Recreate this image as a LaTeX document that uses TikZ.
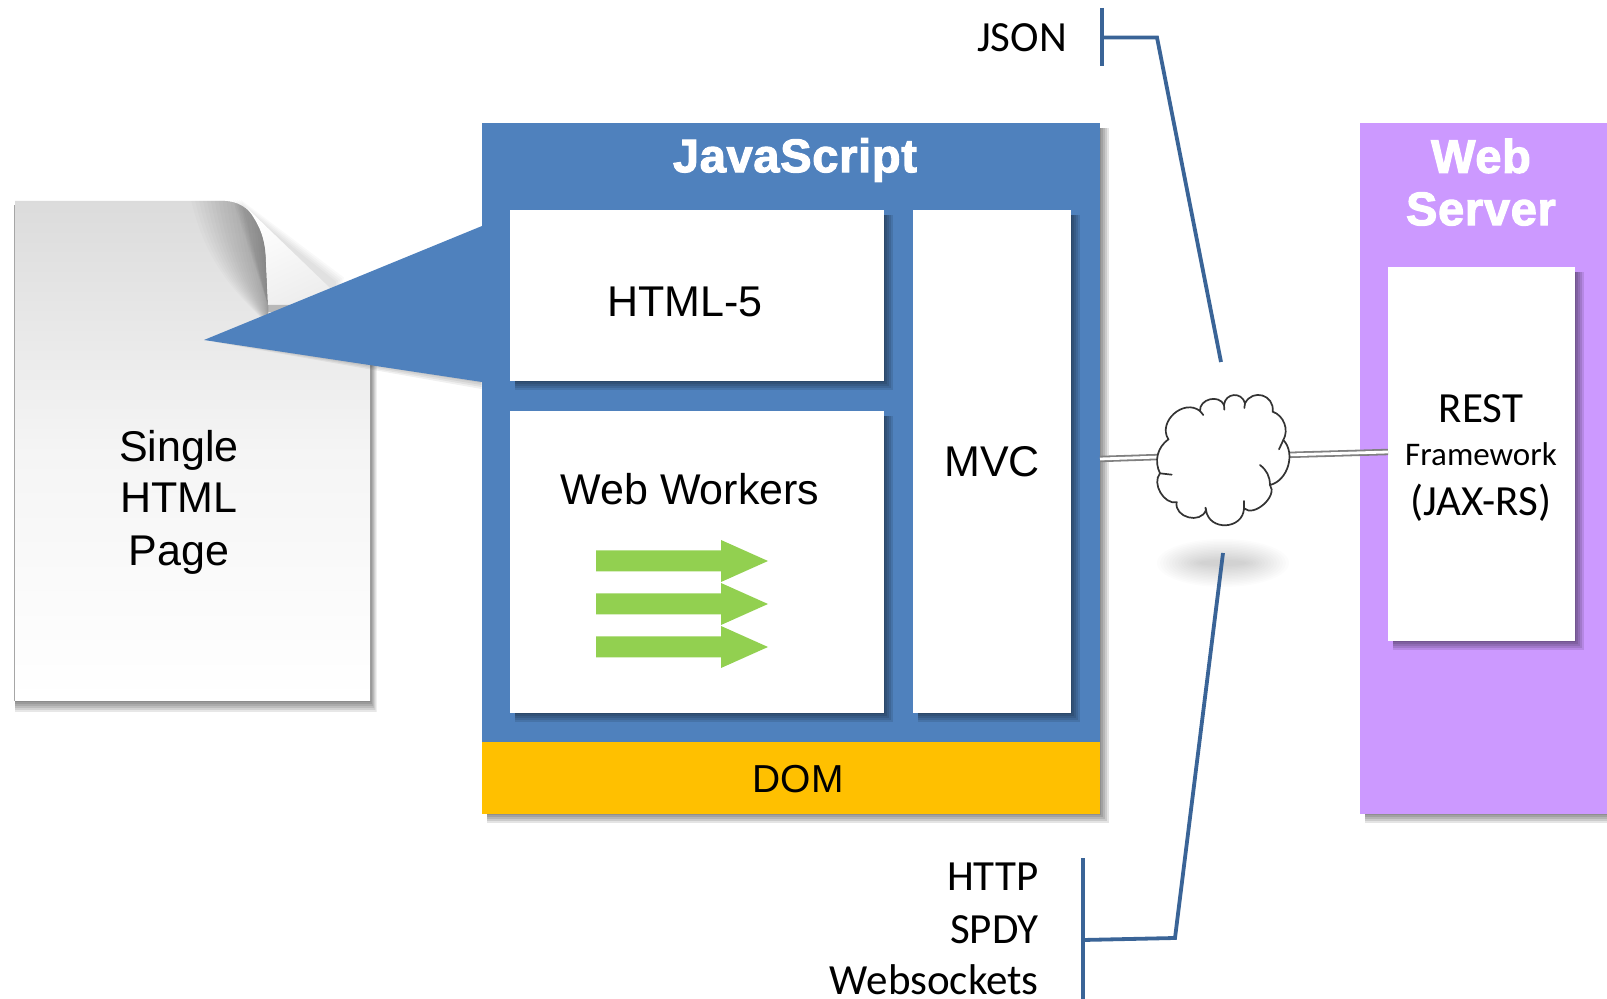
\documentclass[tikz,border=0pt]{standalone}
\usepackage{fontspec}
\setmainfont{Liberation Sans}
\newfontfamily\carl{Carlito}
\newfontfamily\boldf[FakeBold=2.4,LetterSpace=1.5]{Liberation Sans Bold}
\definecolor{jsblue}{HTML}{4F81BD}
\definecolor{wsviolet}{HTML}{CC99FF}
\definecolor{domgold}{HTML}{FFC000}
\definecolor{arrowgreen}{HTML}{92D050}
\definecolor{linkblue}{HTML}{3A6497}
\newcommand{\softshadow}[4]{%
  \foreach \g in {9,7,5,3,1}{
    \fill[black,opacity=.105] (#1+5,#2+5) rectangle (#3+\g,#4+\g);
  }}
\newcommand{\greenarrow}[1]{%
  \fill[arrowgreen] (596,#1-10.5) -- (721,#1-10.5) -- (721,#1-21) -- (768,#1) -- (721,#1+21) -- (721,#1+10.5) -- (596,#1+10.5) -- cycle;}
\tikzset{
  panel/.style={inner sep=0pt,outer sep=0pt,anchor=center},
  arial/.style={font=\fontsize{21.5}{26}\selectfont,align=center,text=black,inner sep=0pt},
  calibri/.style={font=\carl\fontsize{21.5}{26}\selectfont,text=black,inner sep=0pt},
  smallcal/.style={font=\carl\fontsize{16.5}{20}\selectfont,text=black,inner sep=0pt},
  heading/.style={font=\boldf\fontsize{23.5}{26}\selectfont,text=white,align=center,inner sep=0pt},
  bluelink/.style={draw=linkblue,line width=1.9pt,line join=miter},
  graypipe/.style={draw=black!50,double=white,double distance=1.4pt,line width=.9pt},
  cloudline/.style={draw=black!80,line width=.85pt,line cap=round},
}
\begin{document}
\begin{tikzpicture}[x=.5pt,y=-.5pt]
\useasboundingbox (0,0) rectangle (1607,999);
\fill[white] (0,0) rectangle (1607,999);

% ---------- page ----------
\foreach \g in {11,9,7,5,3,1}{
  \fill[black,opacity=.095] (15,205) -- (15,701+\g) -- (370+\g*.6,701+\g) -- (370+\g*.6,320) -- (260,320) -- cycle;
}
\fill[black,opacity=.35] (14,205) rectangle (16,701);
\shade[top color=black!14,bottom color=white,middle color=black!4] (15,201) -- (225,201) .. controls (250,202) and (265,225) .. (266,262) -- (268,305) -- (370,305) -- (370,701) -- (15,701) -- cycle;
\begin{scope}
  \clip (15,201) -- (225,201) .. controls (250,202) and (265,225) .. (266,262) -- (268,305) -- (268,340) -- (190,340) -- (190,201) -- cycle;
  \foreach \s in {78,74,70,66,62,58,54,50,46,42,38,34,30,26,22,18,15,12,9,6,4,2}{
    \fill[black,opacity=.016] (268-\s,195) -- (272,195) -- (272,325) -- (268,325) .. controls (268-\s*.3,300) and (268-\s*.8,270) .. (268-\s,195) -- cycle;
  }
\end{scope}
% soft edge along the diagonal of the curl
\foreach \g in {9,7,5,3,1}{
  \fill[black,opacity=.022] (232+\g,200) -- (335+\g,282-\g*.5) -- (335,305) -- (268,305) -- cycle;
}
\shade[left color=white,right color=black!7,shading angle=25] (247,208) .. controls (260,225) and (266,240) .. (266,262) -- (268,305) -- (300,305) -- (332,290) -- cycle;
\fill[black!45,opacity=.5] (268,305) -- (296,305) -- (280,312) -- (268,312) -- cycle;

% ---------- JavaScript ----------
\softshadow{481.5}{123}{1100}{814}
\softshadow{1360}{123}{1620}{814}
\node[panel,fill=jsblue,minimum width=309.25pt,minimum height=309.5pt] (jsbox) at (790.75,432.5) {};
\node[panel,fill=domgold,minimum width=309.25pt,minimum height=36pt] (dombox) at (790.75,778) {};
\softshadow{510}{210}{884}{381}
\softshadow{510}{411}{884}{713}
\softshadow{913}{210}{1071}{713}
\node[panel,fill=white,minimum width=187pt,minimum height=85.5pt] (htmlbox) at (697,295.5) {};
\node[panel,fill=white,minimum width=187pt,minimum height=151pt] (wwbox) at (697,562) {};
\node[panel,fill=white,minimum width=79pt,minimum height=251.5pt] (mvcbox) at (992,461.5) {};
\foreach \g in {7,5,3,1}{
  \fill[black,opacity=.06] (215,340+\g*.3) -- (481.5,382+\g) -- (481.5,300) -- cycle;
}
\fill[jsblue] (204,340) -- (482,226) -- (482,382) -- cycle;
\greenarrow{561}
\greenarrow{604}
\greenarrow{647}

% ---------- web server ----------
\node[panel,fill=wsviolet,minimum width=123.5pt,minimum height=345.5pt] (wsbox) at (1483.5,468.5) {};
\softshadow{1388}{267}{1575}{641}
\node[panel,fill=white,minimum width=93.5pt,minimum height=187pt] (restbox) at (1481.5,454) {};

% ---------- pipes ----------
\coordinate (pipeA) at (1100,459);
\coordinate (pipeB) at (1160,457);
\coordinate (pipeC) at (1285,455);
\coordinate (pipeD) at (1388,452);
\draw[graypipe] (pipeA) -- (pipeB);
\draw[graypipe] (pipeC) -- (pipeD);

% ---------- cloud ----------
\foreach \g in {0,...,14}{
  \fill[black,opacity=.012] (1223,563) ellipse ({24+3*\g} and {3+1.5*\g});
}
\begin{scope}[shift={(1080,340)},x=.16667pt,y=-.16667pt]
  \draw[cloudline,fill=white] (240,400) to[bend left=40] (265,298)
    to[bend left=80,looseness=1.25] (360,213) to[bend left=80,looseness=1.25] (432,195) to[bend left=80,looseness=1.5] (495,190)
    to[bend left=80,looseness=1.5] (578,215) to[bend left=50] (610,300) to[bend left=60] (570,435)
    to[bend left=85] (492,505) to[bend left=85,looseness=1.45] (378,510) to[bend left=85,looseness=1.3] (290,487)
    to[bend left=70] (240,400) -- cycle;
  \draw[cloudline] (360,213) -- (370,225);
  \draw[cloudline] (432,195) -- (433,209);
  \draw[cloudline] (495,190) -- (493,204);
  \draw[cloudline] (610,300) -- (597,328);
  \draw[cloudline] (570,435) to[bend right=25] (540,375);
  \draw[cloudline] (492,505) -- (492,483);
  \draw[cloudline] (378,510) -- (376,503);
  \draw[cloudline] (240,400) -- (275,404);
\end{scope}

% ---------- blue links ----------
\coordinate (jsonTop) at (1102,8);
\coordinate (jsonBot) at (1102,66);
\coordinate (jsonMid) at (1102,37.5);
\coordinate (jsonBend) at (1157,37.5);
\coordinate (jsonEnd) at (1221,362);
\coordinate (httpTop) at (1083,858);
\coordinate (httpBot) at (1083,999);
\coordinate (httpMid) at (1083,940);
\coordinate (httpBend) at (1175,938);
\coordinate (httpEnd) at (1223,553);
\draw[bluelink] (jsonTop) -- (jsonBot);
\draw[bluelink] (jsonMid) -- (jsonBend) -- (jsonEnd);
\draw[bluelink] (httpTop) -- (httpBot);
\draw[bluelink] (httpMid) -- (httpBend) -- (httpEnd);

% ---------- text ----------
\node[arial] (single) at (179,450) {Single};
\node[arial] (html) at (179,498) {HTML};
\node[arial] (pagelbl) at (179,555) {Page};
\node[heading] (jslbl) at (795,160) {JavaScript};
\node[arial] (h5lbl) at (685,302) {HTML-5};
\node[arial] (wwlbl) at (690,489) {Web Workers};
\node[arial] (mvclbl) at (992,462) {MVC};
\node[arial,font=\fontsize{19.5}{24}\selectfont] (domlbl) at (798,779) {DOM};
\node[heading] (weblbl) at (1481,156) {Web};
\node[heading] (serverlbl) at (1481,209) {Server};
\node[calibri] (restlbl) at (1481,409) {REST};
\node[smallcal] (fwlbl) at (1481,454) {Framework};
\node[calibri] (jaxlbl) at (1481,503) {(JAX-RS)};
\node[calibri] (jsonlbl) at (1022,38) {JSON};
\node[calibri,anchor=east] (httplbl) at (1039,877) {HTTP};
\node[calibri,anchor=east] (spdylbl) at (1039,930) {SPDY};
\node[calibri,anchor=east] (wslbl) at (1039,980) {Websockets};
\end{tikzpicture}
\end{document}
